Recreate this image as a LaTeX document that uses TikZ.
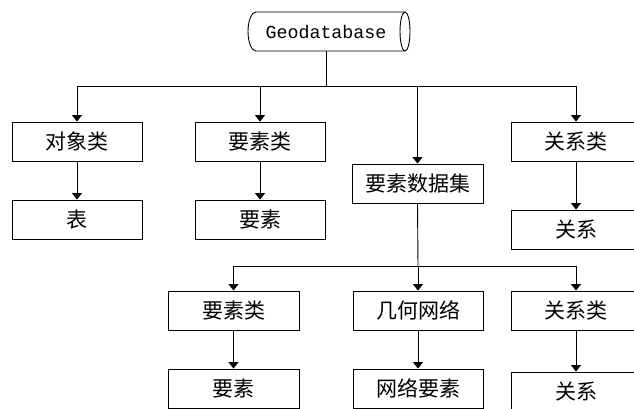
\documentclass[tikz,border=0pt]{standalone}
\usepackage{fontspec}
\newfontfamily\cjk{Noto Sans CJK SC}
\newfontfamily\monofnt{Liberation Mono}
\usetikzlibrary{arrows.meta}
\begin{document}
\begin{tikzpicture}[x=1pt,y=-1pt,
  box/.style={draw,line width=0.9pt,minimum width=130pt,minimum height=39pt,inner sep=0pt,
     font=\cjk\fontsize{21}{21}\selectfont},
  arr/.style={line width=0.9pt,-{Triangle[length=6.5pt,width=10pt]}},
  ln/.style={line width=0.9pt}]
\useasboundingbox (0,0) rectangle (634,408);
\fill[white] (0,0) rectangle (634,408);
% cylinder
\draw[ln] (256,12) -- (405,12) arc[start angle=-90,end angle=270,x radius=5,y radius=19.5]
  (405,51) -- (256,51) arc[start angle=90,end angle=270,x radius=8,y radius=19.5];
\node[font=\monofnt\fontsize{18.3}{18.3}\selectfont,inner sep=0pt] (geo) at (326,31.5) {Geodatabase};
\coordinate (geob) at (326,51);
\coordinate (bus1) at (326,86.5);
% first row
\node[box] (obj) at (77,141.5) {对象类};
\node[box] (tbl) at (77,219.5) {表};
\node[box] (fc1) at (260,141.5) {要素类};
\node[box] (f1) at (260,219.5) {要素};
\node[box,minimum width=131pt] (fds) at (417.5,183.5) {要素数据集};
\node[box] (rc1) at (576,141.5) {关系类};
\node[box] (r1) at (576,229.5) {关系};
% second row
\node[box,minimum width=131pt] (fc2) at (233.5,310.5) {要素类};
\node[box,minimum width=131pt] (f2) at (233.5,388.5) {要素};
\node[box] (gn) at (418,310.5) {几何网络};
\node[box] (ne) at (418,388.5) {网络要素};
\node[box] (rc2) at (576,310.5) {关系类};
\node[box] (r2) at (576,391.5) {关系};
\coordinate (bus2) at (418,266);
% connectors
\draw[ln] (geob) -- (bus1);
\draw[arr] (bus1) -| (obj.north);
\draw[arr] (bus1) -| (fc1.north);
\draw[arr] (bus1) -| (fds.north);
\draw[arr] (bus1) -| (rc1.north);
\draw[arr] (obj) -- (tbl);
\draw[arr] (fc1) -- (f1);
\draw[arr] (rc1) -- (r1);
\draw[ln] (fds.south) -- (bus2);
\draw[arr] (bus2) -| (fc2.north);
\draw[arr] (bus2) -- (gn.north);
\draw[arr] (bus2) -| (rc2.north);
\draw[arr] (fc2) -- (f2);
\draw[arr] (gn) -- (ne);
\draw[arr] (rc2) -- (r2);
\end{tikzpicture}
\end{document}
